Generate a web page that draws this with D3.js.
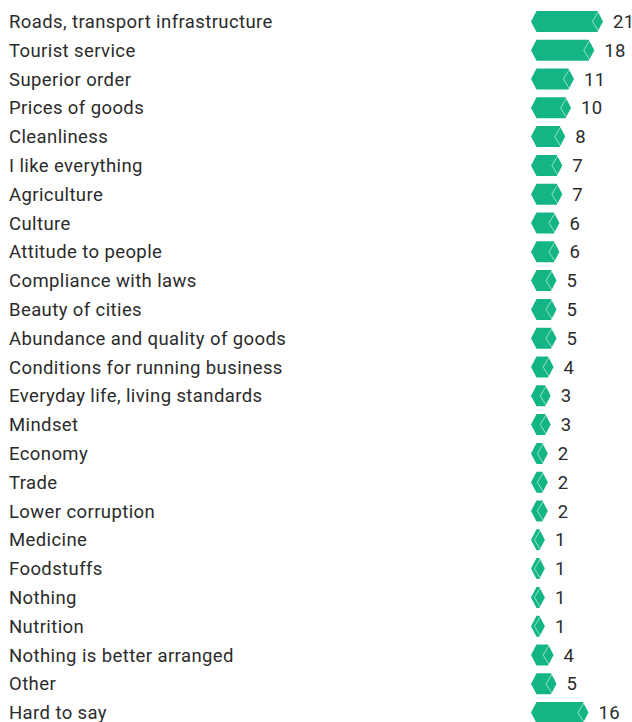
<!DOCTYPE html>
<html>
<head>
<meta charset="utf-8">
<script src="https://cdn.jsdelivr.net/npm/d3@7"></script>
<style>
  html, body { margin: 0; padding: 0; background: #fff; }
  svg text { font-family: Roboto, "Open Sans", sans-serif; }
</style>
</head>
<body>
<div id="chart"></div>
<script>
// Answers and share of respondents (%)
const CATEGORIES = [
  'Roads, transport infrastructure', 'Tourist service', 'Superior order', 'Prices of goods',
  'Cleanliness', 'I like everything', 'Agriculture', 'Culture', 'Attitude to people',
  'Compliance with laws', 'Beauty of cities', 'Abundance and quality of goods',
  'Conditions for running business', 'Everyday life, living standards', 'Mindset',
  'Economy', 'Trade', 'Lower corruption', 'Medicine', 'Foodstuffs', 'Nothing',
  'Nutrition', 'Nothing is better arranged', 'Other', 'Hard to say'
];
const VALUES = [21, 18, 11, 10, 8, 7, 7, 6, 6, 5, 5, 5, 4, 3, 3, 2, 2, 2, 1, 1, 1, 1, 4, 5, 16];

const width = 632;
const height = 722;
const barLeft = 531;
const tip = 5.5;
const barH = 21;
const color = '#14b585';

const svg = d3.select('#chart').append('svg')
  .attr('width', width)
  .attr('height', height);

const y = d3.scaleBand()
  .domain(CATEGORIES)
  .range([7, 7 + 28.8 * CATEGORIES.length]);

const x = d3.scaleLinear()
  .domain([0, 21])
  .range([0, 61]);

const rows = svg.selectAll('g.row')
  .data(CATEGORIES.map((c, i) => ({ name: c, value: VALUES[i] })))
  .enter()
  .append('g')
  .attr('class', 'row')
  .attr('transform', d => `translate(0,${y(d.name) + y.bandwidth() / 2})`);

rows.append('text')
  .attr('x', 9)
  .attr('dy', '0.36em')
  .attr('font-size', 18.5)
  .attr('letter-spacing', 0.4)
  .attr('fill', '#2b2b2b')
  .text(d => d.name);

// hexagon-shaped bar
rows.append('path')
  .attr('fill', color)
  .attr('d', d => {
    const x0 = barLeft, x1 = barLeft + tip, x2 = barLeft + tip + x(d.value), x3 = x2 + tip;
    const h = barH / 2;
    return `M${x0},0L${x1},${-h}L${x2},${-h}L${x3},0L${x2},${h}L${x1},${h}Z`;
  });

// thin white chevron near the right end
rows.append('path')
  .attr('fill', 'none')
  .attr('stroke', '#fff')
  .attr('stroke-opacity', 0.7)
  .attr('stroke-width', 0.8)
  .attr('d', d => {
    const xe = barLeft + tip + x(d.value);
    const h = barH / 2;
    return `M${xe + 1.5},${-h}L${xe - 5},0L${xe + 1.5},${h}`;
  });

rows.append('text')
  .attr('x', d => barLeft + 2 * tip + x(d.value) + 10)
  .attr('dy', '0.36em')
  .attr('font-size', 18.5)
  .attr('letter-spacing', 0.4)
  .attr('fill', '#2b2b2b')
  .text(d => d.value);
</script>
</body>
</html>
